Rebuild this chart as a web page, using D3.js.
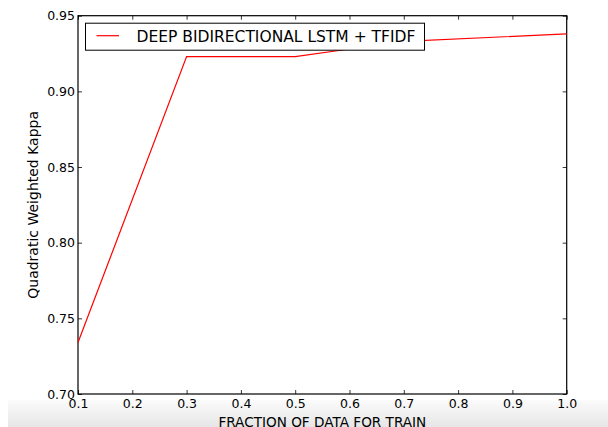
<!DOCTYPE html>
<html>
<head>
<meta charset="utf-8">
<script src="https://cdn.jsdelivr.net/npm/d3@7"></script>
<style>
  body { margin: 0; background: #fff; }
  svg { display: block; font-family: "DejaVu Sans", sans-serif; }
</style>
</head>
<body>
<div id="chart"></div>
<script>
var margin = {top: 15.7, right: 41.3, bottom: 33, left: 78},
    width = 608 - margin.left - margin.right,
    height = 427 - margin.top - margin.bottom;

// data
var fractions = [0.1, 0.3, 0.5, 0.6, 0.7, 1.0];
var kappa = [0.734, 0.923, 0.923, 0.928, 0.933, 0.938];
var xTicks = [0.1, 0.2, 0.3, 0.4, 0.5, 0.6, 0.7, 0.8, 0.9, 1.0];
var yTicks = [0.70, 0.75, 0.80, 0.85, 0.90, 0.95];
var seriesName = "DEEP BIDIRECTIONAL LSTM + TFIDF";

var svg = d3.select("#chart").append("svg")
    .attr("width", 608)
    .attr("height", 427);

// grey shade along the bottom of the screenshot
var grad = svg.append("defs").append("linearGradient")
    .attr("id", "shade").attr("x1", 0).attr("y1", 0).attr("x2", 0).attr("y2", 1);
grad.append("stop").attr("offset", "0%").attr("stop-color", "#fbfbfb");
grad.append("stop").attr("offset", "100%").attr("stop-color", "#e6e6e6");
svg.append("rect")
    .attr("x", 8).attr("y", 400).attr("width", 600).attr("height", 27)
    .attr("fill", "url(#shade)");

var g = svg.append("g")
    .attr("transform", "translate(" + margin.left + "," + margin.top + ")");

var x = d3.scaleLinear().domain([0.1, 1.0]).range([0, width]);
var y = d3.scaleLinear().domain([0.70, 0.95]).range([height, 0]);

var fmtX = d3.format(".1f"), fmtY = d3.format(".2f");

function styleAxis(sel) {
    sel.select(".domain").remove();
    sel.selectAll("line").attr("stroke", "#000").attr("stroke-width", 0.8);
    sel.selectAll("text").attr("font-size", "12.5px").attr("fill", "#000")
        .attr("font-family", "DejaVu Sans, sans-serif");
}

// inward ticks, all four sides
g.append("g")
    .attr("transform", "translate(0," + height + ")")
    .call(d3.axisBottom(x).tickValues(xTicks).tickFormat(fmtX).tickSize(-4).tickPadding(5))
    .call(styleAxis);
g.append("g")
    .call(d3.axisTop(x).tickValues(xTicks).tickFormat("").tickSize(-4))
    .call(styleAxis);
g.append("g")
    .call(d3.axisLeft(y).tickValues(yTicks).tickFormat(fmtY).tickSize(-4).tickPadding(3))
    .call(styleAxis);
g.append("g")
    .attr("transform", "translate(" + width + ",0)")
    .call(d3.axisRight(y).tickValues(yTicks).tickFormat("").tickSize(-4))
    .call(styleAxis);

g.append("rect")
    .attr("width", width).attr("height", height)
    .attr("fill", "none").attr("stroke", "#000").attr("stroke-width", 1.2);

var points = fractions.map(function (f, i) { return [f, kappa[i]]; });
var line = d3.line()
    .x(function (d) { return x(d[0]); })
    .y(function (d) { return y(d[1]); });

g.append("path")
    .datum(points)
    .attr("fill", "none")
    .attr("stroke", "#ff0000")
    .attr("stroke-width", 1.2)
    .attr("d", line);

// legend
var legend = g.append("g").attr("transform", "translate(7.5,7.5)");
legend.append("rect")
    .attr("width", 339).attr("height", 27)
    .attr("fill", "#fff").attr("stroke", "#000").attr("stroke-width", 1);
legend.append("line")
    .attr("x1", 11).attr("x2", 33.5).attr("y1", 12.5).attr("y2", 12.5)
    .attr("stroke", "#ff0000").attr("stroke-width", 1.2);
legend.append("text")
    .attr("x", 51).attr("y", 18.5)
    .attr("font-size", "15.5px")
    .text(seriesName);

// axis titles
svg.append("text")
    .attr("x", margin.left + width / 2).attr("y", 427)
    .attr("text-anchor", "middle")
    .attr("font-size", "13.6px")
    .text("FRACTION OF DATA FOR TRAIN");

svg.append("text")
    .attr("transform", "translate(38," + (margin.top + height / 2) + ") rotate(-90)")
    .attr("text-anchor", "middle")
    .attr("font-size", "14px")
    .text("Quadratic Weighted Kappa");
</script>
</body>
</html>
